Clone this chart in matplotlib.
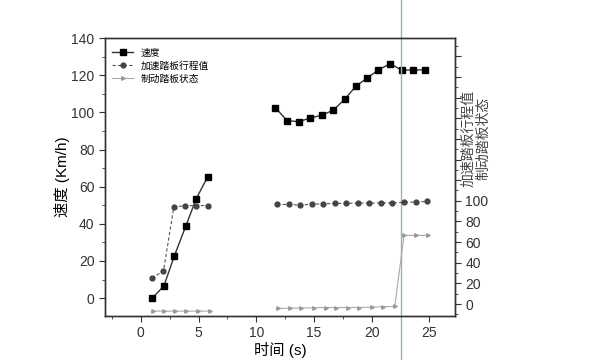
import numpy as np
import matplotlib
matplotlib.use('Agg')
import matplotlib.pyplot as plt
from matplotlib.ticker import MultipleLocator, FuncFormatter

plt.rcParams['font.family'] = ['Liberation Sans', 'Noto Sans CJK SC', 'DejaVu Sans']

# speed (left axis), two recorded segments
t_speed_1 = [1.0, 2.0, 2.9, 3.9, 4.8, 5.8]
speed_1 = [0, 6.5, 22.6, 38.8, 53.5, 65.4]
t_speed_2 = [11.65, 12.66, 13.67, 14.68, 15.68, 16.67, 17.67, 18.66, 19.58,
             20.59, 21.6, 22.6, 23.6, 24.6]
speed_2 = [102.6, 95.6, 95.0, 97.0, 98.5, 101.2, 107.1, 114.3, 118.4,
           122.9, 126.3, 122.7, 122.9, 122.9]

# accelerator pedal travel (right axis)
t_acc_1 = [0.95, 1.96, 2.86, 3.83, 4.78, 5.8]
acc_1 = [25.5, 31.7, 93.8, 95.4, 95.4, 95.4]
t_acc_2 = [11.8, 12.8, 13.8, 14.8, 15.8, 16.8, 17.8, 18.8, 19.8, 20.8,
           21.8, 22.8, 23.8, 24.8]
acc_2 = [96.5, 96.5, 95.8, 96.8, 97.1, 97.5, 97.5, 97.8, 97.8, 98.1,
         98.1, 98.5, 98.8, 99.5]

# brake pedal state (right axis)
t_brk_1 = [1.07, 2.0, 2.94, 3.95, 4.95, 5.96]
brk_1 = [-6.8, -6.8, -6.8, -6.8, -6.8, -6.8]
t_brk_2 = [11.9, 12.9, 13.9, 15.0, 16.0, 16.95, 17.97, 18.9, 20.0, 21.0,
           22.0, 22.8, 23.8, 24.9]
brk_2 = [-4.2, -4.0, -3.8, -3.6, -3.3, -3.3, -3.3, -3.3, -3.0, -2.5,
         -2.3, 66.5, 66.5, 66.5]

marker_line_x = 22.5

legend_labels = ['速度', '加速踏板行程值', '制动踏板状态']


def join(a, b):
    return list(a) + [np.nan] + list(b)


fig = plt.figure(figsize=(6, 3.6), dpi=100)
ax = fig.add_axes([0.175, 0.122, 0.583, 0.772])
ax2 = ax.twinx()

h1, = ax.plot(join(t_speed_1, t_speed_2), join(speed_1, speed_2), '-s',
              color='#333333', mfc='black', mec='black', ms=5, lw=1.0)
h2, = ax2.plot(join(t_acc_1, t_acc_2), join(acc_1, acc_2), '--o',
               color='#555555', mfc='#444444', mec='#444444', ms=3.5, lw=0.8,
               dashes=(3, 2))
h3, = ax2.plot(join(t_brk_1, t_brk_2), join(brk_1, brk_2), '->',
               color='#aaaaaa', mfc='#999999', mec='#999999', ms=2.5, lw=0.8)

ax.set_xlim(-3.1, 27.2)
ax.set_ylim(-9.7, 140)
ax2.set_ylim(-11.6, 257.5)

ax.xaxis.set_major_locator(MultipleLocator(5))
ax.xaxis.set_minor_locator(MultipleLocator(2.5))
ax.yaxis.set_major_locator(MultipleLocator(20))
ax.yaxis.set_minor_locator(MultipleLocator(10))
ax.set_yticks(range(0, 141, 20))

ax2.yaxis.set_major_locator(MultipleLocator(20))
ax2.yaxis.set_minor_locator(MultipleLocator(10))
ax2.yaxis.set_major_formatter(FuncFormatter(lambda v, p: f'{int(v)}' if 0 <= v <= 100 else ''))

for a in (ax, ax2):
    a.tick_params(which='both', direction='out', labelsize=10, colors='#333333')
    a.tick_params(which='major', length=4)
    a.tick_params(which='minor', length=2)
    for s in a.spines.values():
        s.set_color('#333333')
        s.set_linewidth(1.0)

ax.set_xlabel('时间 (s)', fontsize=11, labelpad=1)
ax.set_ylabel('速度 (Km/h)', fontsize=11, labelpad=1)
ax2.text(1.06, 0.64, '加速踏板行程值\n制动踏板状态', transform=ax.transAxes,
         rotation=90, ha='center', va='center', fontsize=10, color='#444444',
         linespacing=1.0)

ax.legend([h1, h2, h3], legend_labels, loc='upper left', frameon=False,
          fontsize=7, handlelength=2.2, borderaxespad=0.3, labelspacing=0.3,
          bbox_to_anchor=(0.0, 0.99))

ax.axvline(marker_line_x, ymin=-0.2, ymax=1.2, clip_on=False,
           color='#8fb4c4', lw=1.0)

fig.savefig('out.png', dpi=100)
